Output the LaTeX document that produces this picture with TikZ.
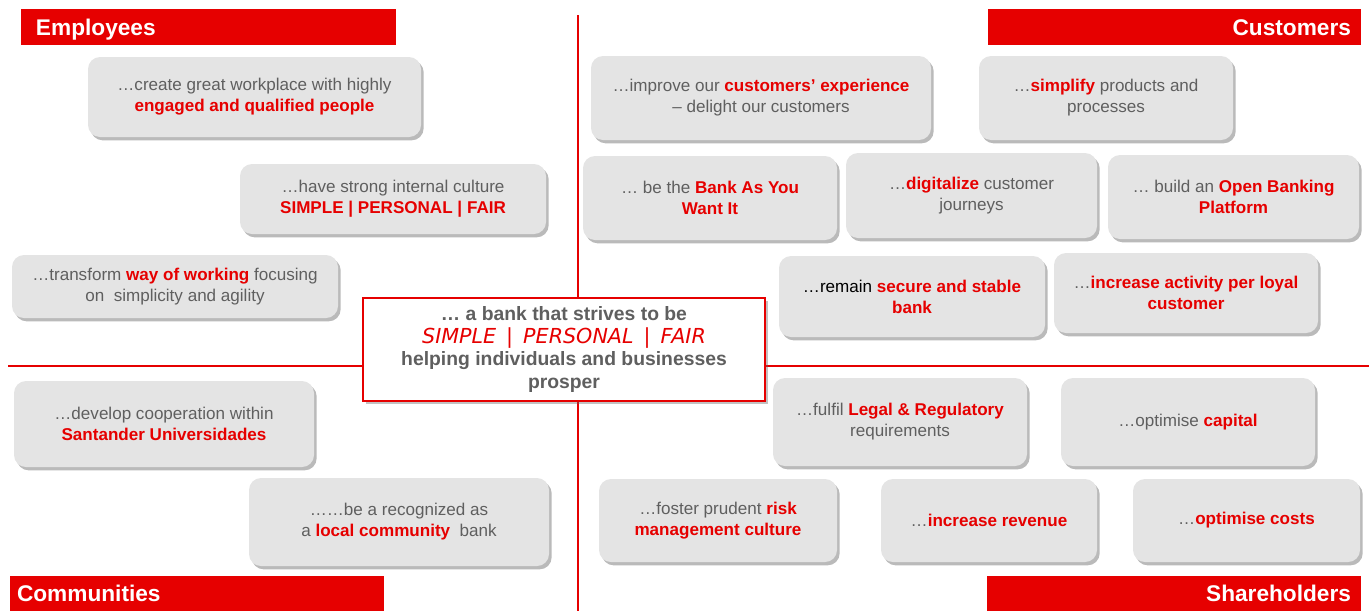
\documentclass[tikz,border=0pt]{standalone}
\usepackage{fontspec}
\setmainfont{Liberation Sans}
\newfontfamily\handfont{DejaVu Sans}
\usetikzlibrary{shadows}
\definecolor{sred}{HTML}{E60000}
\definecolor{sgray}{HTML}{5F5F5F}
\definecolor{boxfill}{HTML}{E4E4E4}
\newcommand{\rd}[1]{\textcolor{sred}{\bfseries #1}}
\tikzset{
  every node/.style={font=\fontsize{12.8}{15.8}\selectfont},
  gbox/.style 2 args={rounded corners=9pt, fill=boxfill, text=sgray, align=center,
    minimum width=#1*0.75pt, minimum height=#2*0.75pt, inner sep=0pt,
    drop shadow={shadow xshift=2pt, shadow yshift=-2.5pt, opacity=0.45, fill=black!60}},
  hbar/.style 2 args={fill=sred, text=white, inner sep=0pt,
    minimum width=#1*0.75pt, minimum height=#2*0.75pt, text height=12pt, text depth=0pt,
    font=\fontsize{17}{18}\selectfont\bfseries},
  axis/.style={draw=sred, line width=2.2pt}
}
\begin{document}
\begin{tikzpicture}[x=0.75pt,y=-0.75pt]
\useasboundingbox (0,0) rectangle (1369,611);
% axes
\coordinate (vt) at (578,15);
\coordinate (vb) at (578,611);
\coordinate (hl) at (8,366);
\coordinate (hr) at (1369,366);
\draw[axis] (vt) -- (vb);
\draw[axis] (hl) -- (hr);
% header bars
\node[hbar={375}{36}, text width=345*0.75pt, align=left] (emp) at (208.5,27) {Employees};
\node[hbar={373}{36}, text width=353*0.75pt, align=right] (cus) at (1174.5,27) {Customers};
\node[hbar={374}{35}, text width=360*0.75pt, align=left] (com) at (197,593.5) {Communities};
\node[hbar={374}{35}, text width=354*0.75pt, align=right] (sha) at (1174,593.5) {Shareholders};
% employees
\node[gbox={333}{80}] (b1) at (254.5,97) {…create great workplace with highly\\ \rd{engaged and qualified people}};
\node[gbox={306}{70}] (b2) at (393,199) {…have strong internal culture\\ \rd{SIMPLE | PERSONAL | FAIR}};
\node[gbox={326}{63}] (b3) at (175,286.5) {…transform \rd{way of working} focusing\\ on\ \ simplicity and agility};
% communities
\node[gbox={300}{86}] (b4) at (164,424) {…develop cooperation within\\ \rd{Santander Universidades}};
\node[gbox={300}{88}] (b5) at (399,522) {……be a recognized as\\ a \rd{local community}\ \ bank};
% customers
\node[gbox={340}{84}] (b6) at (761,98) {…improve our \rd{customers’ experience}\\ – delight our customers};
\node[gbox={254}{84}] (b7) at (1106,98) {…\rd{simplify} products and\\ processes};
\node[gbox={254}{84}] (b8) at (710,198) {… be the \rd{Bank As You}\\ \rd{Want It}};
\node[gbox={251}{85}] (b9) at (971.5,195.5) {…\rd{digitalize} customer\\ journeys};
\node[gbox={251}{84}] (b10) at (1233.5,197) {… build an \rd{Open Banking}\\ \rd{Platform}};
\node[gbox={266}{81}] (b11) at (912,296.5) {\textcolor{black}{…remain} \rd{secure and stable}\\ \rd{bank}};
\node[gbox={264}{80}] (b12) at (1186,293) {…\rd{increase activity per loyal}\\ \rd{customer}};
% shareholders
\node[gbox={254}{88}] (b13) at (900,422) {…fulfil \rd{Legal \& Regulatory}\\ requirements};
\node[gbox={254}{88}] (b14) at (1188,422) {…optimise \rd{capital}};
\node[gbox={238}{83}] (b15) at (718,520.5) {…foster prudent \rd{risk}\\ \rd{management culture}};
\node[gbox={216}{83}] (b16) at (989,520.5) {…\rd{increase revenue}};
\node[gbox={227}{83}] (b17) at (1246.5,520.5) {…\rd{optimise costs}};
% center
\node[draw=sred, line width=1.6pt, fill=white, align=center, text=sgray,
  minimum width=402*0.75pt, minimum height=103*0.75pt, inner sep=0pt,
  drop shadow={shadow xshift=2pt, shadow yshift=-2.5pt, opacity=0.4, fill=black!60},
  font=\fontsize{14.5}{17}\selectfont\bfseries] (ctr) at (564,349.5)
  {… a bank that strives to be\\
   {\handfont\mdseries\itshape\color{sred}\fontsize{15.5}{17}\selectfont SIMPLE \,|\, PERSONAL \,|\, FAIR}\\
   helping individuals and businesses\\ prosper};
\end{tikzpicture}
\end{document}
